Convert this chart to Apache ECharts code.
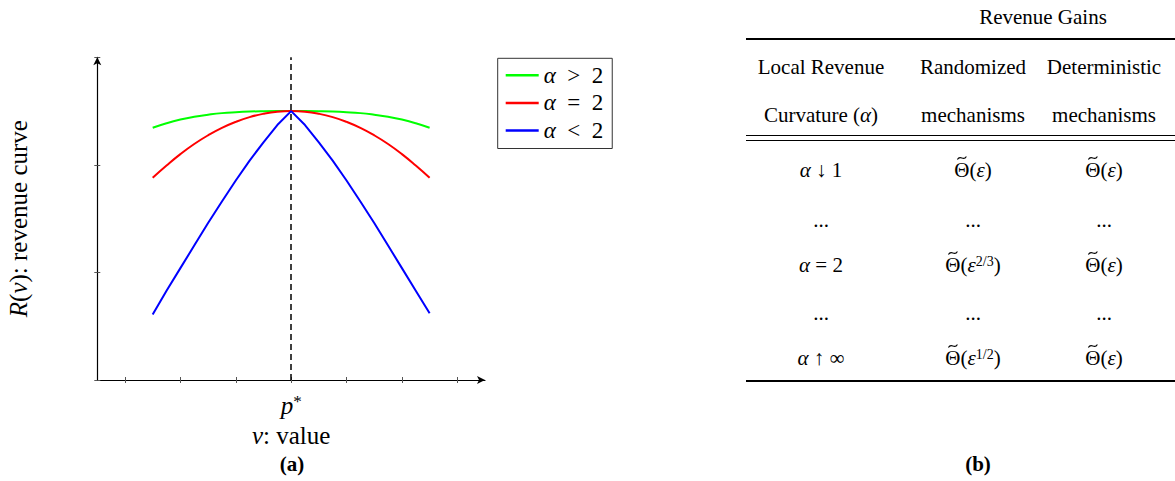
<!DOCTYPE html>
<html>
<head>
<meta charset="utf-8">
<script src="https://cdn.jsdelivr.net/npm/echarts@6/dist/echarts.min.js"></script>
<style>
    html, body { margin: 0; padding: 0; background: #fff; }
    #main { width: 1175px; height: 481px; }
</style>
</head>
<body>
<div id="main"></div>
<script>
// values v (p* at 0) and revenue curves
const vs = [-2.5, -2.25, -2, -1.75, -1.5, -1.25, -1, -0.75, -0.5, -0.25, 0,
            0.25, 0.5, 0.75, 1, 1.25, 1.5, 1.75, 2, 2.25, 2.5];
const greenCurve = [2.345, 2.387, 2.421, 2.447, 2.466, 2.481, 2.49, 2.496, 2.499, 2.5, 2.5,
                    2.5, 2.499, 2.496, 2.49, 2.481, 2.466, 2.447, 2.421, 2.387, 2.345];
const redCurve = [1.88, 1.994, 2.1, 2.194, 2.275, 2.344, 2.4, 2.444, 2.475, 2.494, 2.5,
                  2.494, 2.475, 2.444, 2.4, 2.344, 2.275, 2.194, 2.1, 1.994, 1.88];
const blueCurve = [0.61, 0.83, 1.04, 1.25, 1.46, 1.66, 1.855, 2.04, 2.21, 2.37, 2.5,
                   2.37, 2.21, 2.04, 1.855, 1.66, 1.46, 1.25, 1.04, 0.83, 0.62];
const seriesNames = ['α > 2', 'α = 2', 'α < 2'];
const xTickLabels = ['', '', '', 'p*', '', '', ''];

// table (b)
const tableTitle = 'Revenue Gains';
const headRow1 = ['Local Revenue', 'Randomized', 'Deterministic'];
const headRow2 = ['Curvature ({i|α})', 'mechanisms', 'mechanisms'];
const curvatures = ['{i|α} ↓ 1', '...', '{i|α} = 2', '...', '{i|α} ↑ ∞'];
const randomized = ['Θ̃({i|ε})', '...', 'Θ̃({i|ε}{s|2/3})', '...', 'Θ̃({i|ε}{s|1/2})'];
const deterministic = ['Θ̃({i|ε})', '...', 'Θ̃({i|ε})', '...', 'Θ̃({i|ε})'];

const FONT = 'Liberation Serif';
const TSIZE = 21;
const SUPSIZE = 14;

function pairs(ys) {
    return vs.map(function (v, i) { return [v, ys[i]]; });
}

function mathRich(size) {
    return {
        i: { fontStyle: 'italic', fontSize: size, fontFamily: FONT, color: '#000' },
        s: { fontSize: Math.round(size * 0.68), fontFamily: FONT, color: '#000', verticalAlign: 'top', padding: [0, 0, 8, 0] }
    };
}

// width of a rich string, only used to place the tilde over Θ
let measureCtx = document.createElement('canvas').getContext('2d');
function richWidth(str) {
    let w = 0;
    let re = /\{(\w)\|([^}]*)\}|([^{]+)/g;
    let m;
    while ((m = re.exec(str)) !== null) {
        if (m[3] !== undefined) {
            measureCtx.font = TSIZE + 'px "' + FONT + '"';
            w += measureCtx.measureText(m[3]).width;
        } else if (m[1] === 'i') {
            measureCtx.font = 'italic ' + TSIZE + 'px "' + FONT + '"';
            w += measureCtx.measureText(m[2]).width;
        } else {
            measureCtx.font = SUPSIZE + 'px "' + FONT + '"';
            w += measureCtx.measureText(m[2]).width;
        }
    }
    return w;
}

function plainText(x, y, text, align) {
    return {
        type: 'text',
        x: x,
        y: y,
        silent: true,
        style: {
            text: text,
            fontSize: TSIZE,
            fontFamily: FONT,
            fill: '#000',
            align: align || 'center',
            verticalAlign: 'middle',
            rich: mathRich(TSIZE)
        }
    };
}

// Θ with a tilde accent drawn as a small curve
function tableText(x, y, text) {
    if (text.indexOf('Θ̃') !== 0) {
        return [plainText(x, y, text)];
    }
    let rest = text.slice(2);
    let wTheta = richWidth('Θ');
    let left = x - (wTheta + richWidth(rest)) / 2;
    let cx = left + wTheta / 2;
    let ty = y - 12;
    return [
        plainText(left, y, 'Θ' + rest, 'left'),
        {
            type: 'bezierCurve',
            silent: true,
            shape: {
                x1: cx - 4.5, y1: ty + 1.5,
                cpx1: cx - 1.5, cpy1: ty - 4,
                cpx2: cx + 1.5, cpy2: ty + 4,
                x2: cx + 4.5, y2: ty - 1.5
            },
            style: { stroke: '#000', lineWidth: 1.1, fill: null }
        }
    ];
}

function rule(y, w) {
    return {
        type: 'line',
        silent: true,
        shape: { x1: 746, y1: y, x2: 1175, y2: y },
        style: { stroke: '#000', lineWidth: w }
    };
}

let chart = echarts.init(document.getElementById('main'), null, { renderer: 'svg' });

let colX = [821, 973, 1104];
let rowY = [170, 220, 265, 313, 358];
let graphics = [
    rule(39, 2),
    rule(135.5, 1),
    rule(140.5, 1),
    rule(381, 2)
];
graphics = graphics.concat(tableText(1043, 17, tableTitle));
headRow1.forEach(function (t, i) { graphics = graphics.concat(tableText(colX[i], 67, t)); });
headRow2.forEach(function (t, i) { graphics = graphics.concat(tableText(colX[i], 115, t)); });
curvatures.forEach(function (t, i) {
    graphics = graphics.concat(tableText(colX[0], rowY[i], t));
    graphics = graphics.concat(tableText(colX[1], rowY[i], randomized[i]));
    graphics = graphics.concat(tableText(colX[2], rowY[i], deterministic[i]));
});
// sub captions
['(a)', '(b)'].forEach(function (t, i) {
    graphics.push({
        type: 'text',
        x: i === 0 ? 292 : 978,
        y: 464,
        silent: true,
        style: {
            text: t, fontSize: 21, fontWeight: 'bold', fontFamily: FONT,
            fill: '#000', align: 'center', verticalAlign: 'middle'
        }
    });
});

let tickAxis = {
    type: 'category',
    position: 'bottom',
    data: xTickLabels,
    boundaryGap: true,
    axisLine: { show: false, onZero: false },
    axisTick: { show: true, alignWithLabel: true, interval: 0, inside: true, length: 3, lineStyle: { color: '#555', width: 1 } },
    axisLabel: { show: false },
    splitLine: { show: false }
};

let option = {
    animation: false,
    backgroundColor: '#fff',
    grid: { left: 97.3, top: 57.3, right: 690, bottom: 101, containLabel: false },
    legend: {
        orient: 'vertical',
        left: 497.7,
        top: 58.3,
        data: seriesNames,
        icon: 'rect',
        itemWidth: 33,
        itemHeight: 2.5,
        itemGap: 3.6,
        padding: [5, 9, 6, 8],
        borderColor: '#333',
        borderWidth: 1,
        borderRadius: 0,
        selectedMode: false,
        formatter: function (name) {
            return name.replace('α', '{i|α}').replace(/ /g, '\u2002');
        },
        textStyle: {
            fontSize: 23, lineHeight: 24, fontFamily: FONT, color: '#000',
            rich: { i: { fontStyle: 'italic', fontSize: 23, fontFamily: FONT, color: '#000' } }
        }
    },
    xAxis: [
        {
            type: 'category',
            position: 'bottom',
            data: xTickLabels,
            boundaryGap: true,
            name: '{i|v}: value',
            nameLocation: 'middle',
            nameGap: 38,
            nameTextStyle: { fontSize: 25, fontFamily: FONT, color: '#000', rich: mathRich(25) },
            axisLine: {
                show: true, onZero: false,
                symbol: ['none', 'arrow'], symbolSize: [6, 8],
                lineStyle: { color: '#000', width: 1.2 }
            },
            axisTick: { show: true, alignWithLabel: true, interval: 0, length: 3, lineStyle: { color: '#555', width: 1 } },
            axisLabel: {
                interval: 0,
                margin: 13,
                fontSize: 25,
                fontFamily: FONT,
                color: '#000',
                formatter: function (t) { return t === 'p*' ? '{i|p}{s|*}' : ''; },
                rich: mathRich(25)
            },
            splitLine: { show: false }
        },
        tickAxis,
        {
            type: 'value',
            show: false,
            min: -3.5,
            max: 3.5,
            axisLine: { onZero: false },
            splitLine: { show: false }
        }
    ],
    yAxis: [
        {
            type: 'value',
            min: 0,
            max: 3,
            interval: 1,
            name: '{i|R}({i|v}): revenue curve',
            nameLocation: 'middle',
            nameGap: 66,
            nameRotate: 90,
            nameTextStyle: { fontSize: 25, fontFamily: FONT, color: '#000', rich: mathRich(25) },
            axisLine: {
                show: true, onZero: false,
                symbol: ['none', 'arrow'], symbolSize: [6, 8],
                lineStyle: { color: '#000', width: 1.2 }
            },
            axisTick: { show: true, length: 3, lineStyle: { color: '#555', width: 1 } },
            axisLabel: { show: false },
            splitLine: { show: false }
        },
        {
            type: 'value',
            min: 0,
            max: 3,
            interval: 1,
            position: 'left',
            axisLine: { show: false, onZero: false },
            axisTick: { show: true, inside: true, length: 3, lineStyle: { color: '#555', width: 1 } },
            axisLabel: { show: false },
            splitLine: { show: false }
        }
    ],
    series: [
        {
            name: seriesNames[0],
            type: 'line',
            xAxisIndex: 2,
            yAxisIndex: 0,
            data: pairs(greenCurve),
            smooth: true,
            symbol: 'none',
            lineStyle: { color: '#00ff00', width: 2 },
            itemStyle: { color: '#00ff00' }
        },
        {
            name: seriesNames[1],
            type: 'line',
            xAxisIndex: 2,
            yAxisIndex: 0,
            data: pairs(redCurve),
            smooth: true,
            symbol: 'none',
            lineStyle: { color: '#ff0000', width: 2 },
            itemStyle: { color: '#ff0000' }
        },
        {
            name: seriesNames[2],
            type: 'line',
            xAxisIndex: 2,
            yAxisIndex: 0,
            data: pairs(blueCurve),
            symbol: 'none',
            lineStyle: { color: '#0000ff', width: 2 },
            itemStyle: { color: '#0000ff' },
            markLine: {
                silent: true,
                symbol: 'none',
                label: { show: false },
                lineStyle: { color: '#000', type: [6, 4], width: 1.5 },
                data: [{ xAxis: 0 }]
            }
        }
    ],
    graphic: graphics
};

option && chart.setOption(option);
</script>
</body>
</html>
